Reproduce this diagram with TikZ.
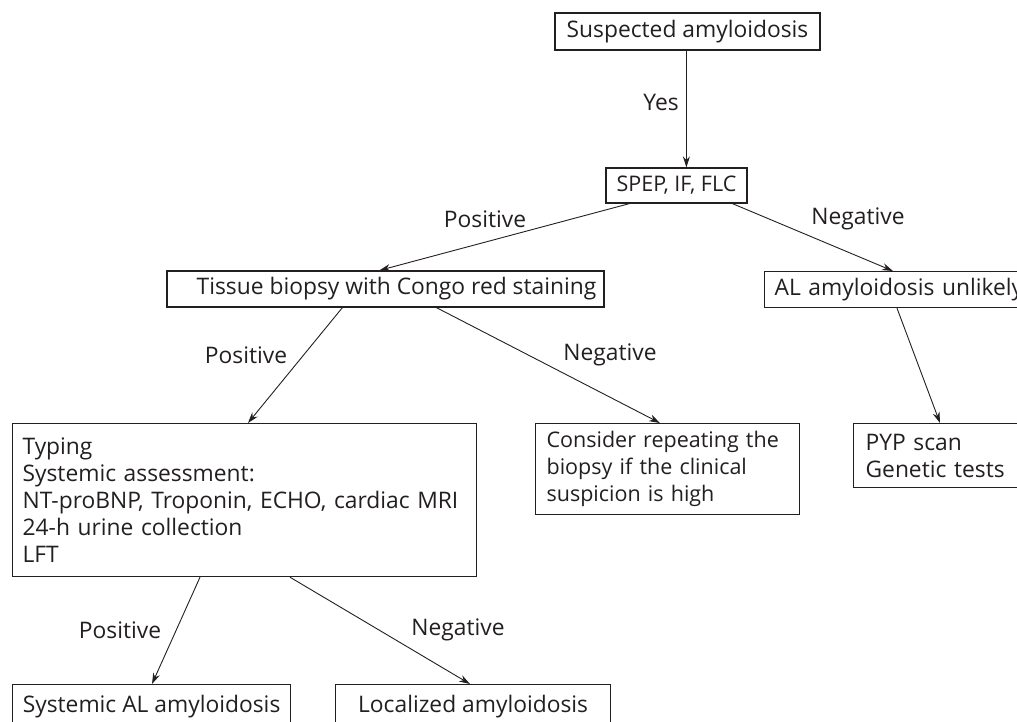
\documentclass[tikz,border=0pt]{standalone}
\usepackage{fontspec}
\setmainfont{Open Sans}
\usetikzlibrary{arrows.meta,calc}
\definecolor{ink}{RGB}{35,31,32}

\begin{document}
\begin{tikzpicture}[x=1pt,y=-1pt,
  font=\fontsize{22.8}{27}\selectfont,
  every node/.style={text=ink},
  box/.style={draw=ink,line width=1.2pt,inner sep=0pt},
  leftbox/.style={box,anchor=north west,align=left,inner xsep=10pt},
  arr/.style={draw=ink,line width=0.9pt,-{Stealth[length=11pt,width=7pt]}}]
\useasboundingbox (0,0) rectangle (1017,721);
\clip (0,0) rectangle (1017,721);

% boxes
\node[box,minimum width=265pt,minimum height=37pt] (susp) at (687.5,31.5) {Suspected amyloidosis};
\node[box,minimum width=141pt,minimum height=35pt,font=\fontsize{21.5}{27}\selectfont] (spep) at (676.5,185.5) {SPEP, IF, FLC};
\node[box,minimum width=437pt,minimum height=36pt] (tissue) at (385.5,289) {\hspace{22pt}Tissue biopsy with Congo red staining};
\node[leftbox,text width=260pt,minimum height=36pt] (al) at (764,271) {AL amyloidosis unlikely};
\node[leftbox,text width=444pt,minimum height=153pt] (typing) at (12,423) {Typing\\Systemic assessment:\\NT-proBNP, Troponin, ECHO, cardiac MRI\\24-h urine collection\\LFT};
\node[leftbox,text width=254pt,minimum height=91pt,inner xsep=5pt,font=\fontsize{21.5}{27}\selectfont] (consider) at (535,423) {\hspace*{6pt}Consider repeating the\\\hspace*{6pt}biopsy if the clinical\\\hspace*{6pt}suspicion is high};
\node[leftbox,text width=180pt,minimum height=64pt,inner xsep=12pt] (pyp) at (853,423) {PYP scan\\Genetic tests};
\node[box,anchor=north west,minimum width=278pt,minimum height=44pt] (systemic) at (12,684) {Systemic AL amyloidosis};
\node[box,anchor=north west,minimum width=275pt,minimum height=44pt] (localized) at (335,684) {Localized amyloidosis};

% arrows
\draw[arr] ($(susp.south west)+(132,0)$) -- ($(spep.north west)+(81,0)$);
\draw[arr] ($(spep.south west)+(24,0)$) -- ($(tissue.north west)+(213,0)$);
\draw[arr] ($(spep.south west)+(127,0)$) -- ($(al.north west)+(129,0)$);
\draw[arr] ($(tissue.south west)+(176,0)$) -- ($(typing.north west)+(236,0)$);
\draw[arr] ($(tissue.south west)+(270,0)$) -- ($(consider.north west)+(125,0)$);
\draw[arr] ($(al.south west)+(133,0)$) -- ($(pyp.north west)+(87,0)$);
\draw[arr] ($(typing.south west)+(188,0)$) -- ($(systemic.north west)+(140,0)$);
\draw[arr] ($(typing.south west)+(278,0)$) -- ($(localized.north west)+(135,0)$);

%labels
\node (yes) at (661,102) {Yes};
\node (pos1) at (485,219) {Positive};
\node (neg1) at (858,219) {Negative};
\node (pos2) at (246,355) {Positive};
\node (neg2) at (610,355) {Negative};
\node (pos3) at (120,630) {Positive};
\node (neg3) at (458,630) {Negative};
\end{tikzpicture}
\end{document}
